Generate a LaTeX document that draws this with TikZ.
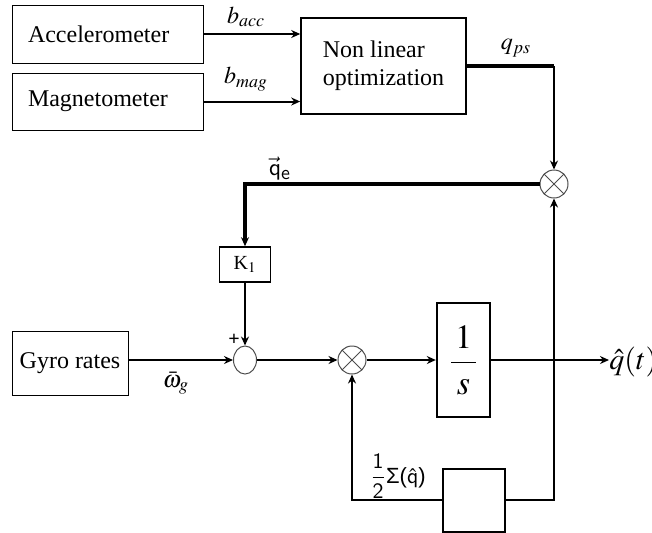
\documentclass[tikz,border=0pt]{standalone}
\usepackage{mathptmx}
\usepackage{fontspec}
\setmainfont{Liberation Serif}
\setsansfont{Liberation Sans}
\usetikzlibrary{arrows.meta,positioning,shapes.geometric}

\begin{document}
\begin{tikzpicture}[
  x=0.5pt, y=-0.5pt,
  box/.style={rectangle, draw, line width=0.5pt, inner sep=0pt, font=\fontsize{12}{14}\selectfont},
  arrow/.style={-{Stealth[length=4.5pt,width=4pt]}, line width=1pt},
  multnode/.style={circle, draw=black!70, line width=0.5pt, minimum size=14pt, inner sep=0pt,
    path picture={\draw[black!70, line width=0.5pt]
      (path picture bounding box.north west) -- (path picture bounding box.south east)
      (path picture bounding box.north east) -- (path picture bounding box.south west);}},
  sumnode/.style={ellipse, draw=black!70, line width=0.5pt, minimum width=11.5pt, minimum height=14pt, inner sep=0pt},
  lbl/.style={inner sep=0pt, font=\fontsize{12}{14}\selectfont}
]
\useasboundingbox (0,0) rectangle (652,532);

% Nodes
\node[box, minimum width=95.5pt, minimum height=29pt, text width=79.5pt, align=left] (acc) at (107.5,34) {Accelerometer};
\node[box, minimum width=95.5pt, minimum height=28.5pt, text width=79.5pt, align=left] (mag) at (107.5,101.5) {Magnetometer};
\node[box, line width=0.8pt, minimum width=82.5pt, minimum height=48pt, align=left] (nlo) at (383.5,66) {Non linear\\optimization};
\node[multnode] (mult1) at (554,184) {};
\node[box, line width=0.8pt, minimum width=25.5pt, minimum height=17.5pt, font=\fontsize{10}{11}\selectfont] (kone) at (245,264.5) {K$_1$};
\node[box, minimum width=58pt, minimum height=32pt] (gyro) at (70,363) {Gyro rates};
\node[sumnode] (sum) at (245,360) {};
\node[multnode] (mult2) at (352,360) {};
\node[box, line width=1.2pt, minimum width=26.5pt, minimum height=57pt, font=\fontsize{17}{20}\selectfont] (integ) at (463.5,360) {$\displaystyle\frac{\,1\,}{\,s\,}$};
\node[box, line width=1pt, minimum width=31pt, minimum height=31.5pt] (gain) at (474,500) {};
\node[lbl, anchor=west, font=\fontsize{15}{17}\selectfont] (qhat) at (609,362) {$\hat{q}(t)$};
\coordinate (qpsturn) at (nlo.east -| mult1);

% Labels
\node[lbl] (bacc) at (246,17) {$b_{acc}$};
\node[lbl] (bmag) at (246,79) {$b_{mag}$};
\node[lbl] (qps) at (516,48) {$q_{ps}$};
\node[lbl, font=\fontsize{13}{15}\sffamily] (qe) at (280,169) {$\vec{\mathsf{q}}_{\mathsf{e}}$};
\node[lbl, font=\fontsize{10}{12}\selectfont] (plus) at (234,340) {\textbf{+}};
\node[lbl] (omg) at (176,383) {$\bar{\omega}_g$};
\node[lbl, font=\fontsize{11}{13}\sffamily] (half) at (398,476) {$\displaystyle\frac{\mathsf{1}}{\mathsf{2}}$Σ($\hat{\mathsf{q}}$)};

% Arrows
\draw[arrow] (acc.east) -- (acc.east -| nlo.west);
\draw[arrow] (mag.east) -- (mag.east -| nlo.west);
\draw[line width=2pt] (nlo.east) -- (qpsturn);
\draw[arrow, line width=0.6pt] (qpsturn) -- (mult1.north);
\draw[arrow, line width=1.6pt] (mult1.west) -| (kone.north);
\draw[arrow] (kone.south) -- (sum.north);
\draw[arrow] (sum.west -| gyro.east) -- (sum.west);
\draw[arrow] (sum.east) -- (mult2.west);
\draw[arrow] (mult2.east) -- (integ.west);
\draw[arrow] (integ.east) -- (qhat.west |- integ.east);
\draw[arrow] (gain.east) -| (mult1.south);
\draw[arrow] (gain.west) -| (mult2.south);

\end{tikzpicture}
\end{document}
